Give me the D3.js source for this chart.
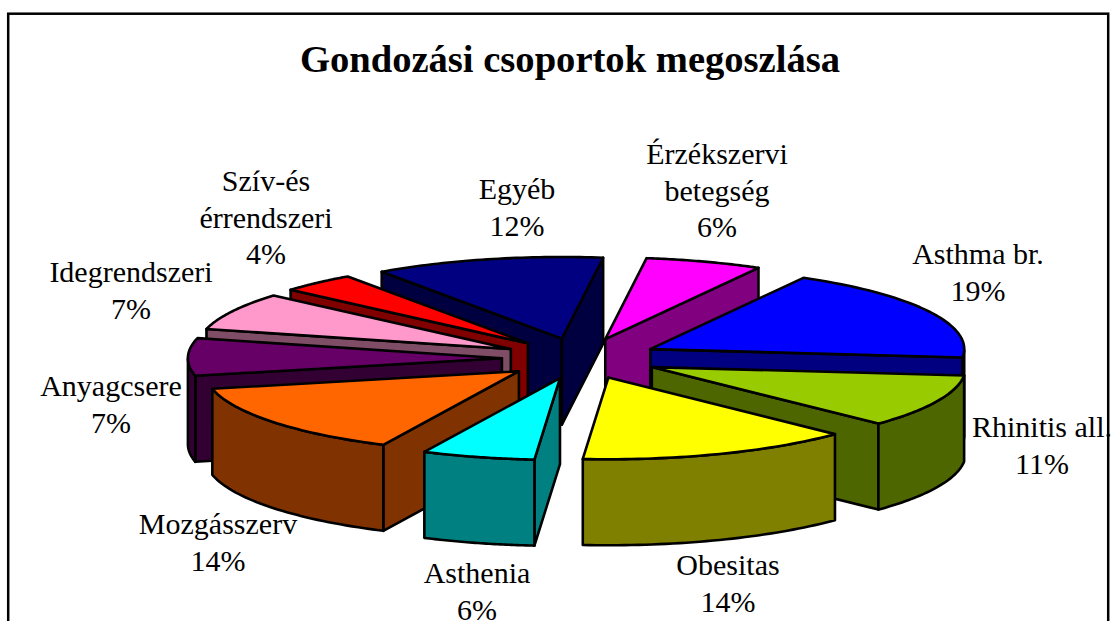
<!DOCTYPE html>
<html><head><meta charset="utf-8">
<style>html,body{margin:0;padding:0;background:#fff;overflow:hidden}svg{display:block}</style>
<script src="https://cdn.jsdelivr.net/npm/d3@7/dist/d3.min.js"></script>
</head><body><svg id="c" width="1117" height="621"></svg>
<script>
const title = "Gondozási csoportok megoszlása";
const categories = ["Asthma br.","Rhinitis all.","Obesitas","Asthenia","Mozgásszerv","Anyagcsere","Idegrendszeri","Szív-és érrendszeri","Egyéb","Érzékszervi betegség"];
const values = [18.5,10.5,14.1,5.8,14.4,7.4,7.4,3.9,11.8,6.0];
const percentLabels = ["19%","11%","14%","6%","14%","7%","7%","4%","12%","6%"];
const topColors = ["#0000ff","#99cc00","#ffff00","#00ffff","#ff6600","#660066","#ff99cc","#ff0000","#000080","#ff00ff"];
const sideColors = ["#000080","#4d6600","#808000","#008080","#803300","#330033","#804d66","#800000","#000040","#800080"];
const labelLines = [["Asthma br."],["Rhinitis all."],["Obesitas"],["Asthenia"],["Mozgásszerv"],["Anyagcsere"],["Idegrendszeri"],["Szív-és","érrendszeri"],["Egyéb"],["Érzékszervi","betegség"]];
const labelAnchors = [[978,255],[1042,428],[728,566],[477,574],[218,525],[111,387],[131,273],[266,182],[517,190],[717,155]];

const svg = d3.select("#c");
svg.append("rect").attr("x",8.2).attr("y",13.7).attr("width",1100).attr("height",640).attr("fill","#fff").attr("stroke","#000").attr("stroke-width",2.5);
svg.append("text").text(title).attr("x",570).attr("y",72).attr("text-anchor","middle")
  .attr("font-family","Liberation Serif").attr("font-weight","bold").attr("font-size",38.6).attr("fill","#000");

// Flat projection of a tilted pie
const R=314, tilt=0.26, pull=78.6, depth=86;
const sx=d3.scaleLinear().domain([-1,1]).range([580.5-R,580.5+R]);
const sy=d3.scaleLinear().domain([-1,1]).range([358.5-R*tilt,358.5+R*tilt]);
const startAngle=29.2*Math.PI/180;
const pie=d3.pie().sort(null).startAngle(startAngle).endAngle(startAngle+2*Math.PI);
const arcs=pie(values);
const line=d3.line();
const slices=arcs.map((d,i)=>{
  const mid=(d.startAngle+d.endAngle)/2, e=pull/R;
  const ex=e*Math.sin(mid), ey=-e*Math.cos(mid);
  const P=(a,r,z)=>[sx(r*Math.sin(a)+ex),sy(-r*Math.cos(a)+ey)+z];
  return {d,i,mid,P,apexY:P(0,0,0)[1]};
});
function faceVisible(a,mid){
  const dx=Math.sin(a),dy=-tilt*Math.cos(a),mx=Math.sin(mid),my=-tilt*Math.cos(mid);
  return (dx*my-dy*mx)*dx<0;
}
const g=svg.append("g").attr("stroke","#000").attr("stroke-width",2.6).attr("stroke-linejoin","round");
slices.sort((a,b)=>a.apexY-b.apexY).forEach(s=>{
  const {d,i,mid,P}=s, a0=d.startAngle,a1=d.endAngle;
  const steps=d3.range(0,41).map(t=>a0+(a1-a0)*t/40);
  const side=sideColors[i];
  const front=steps.filter(a=>{const n=((a%(2*Math.PI))+2*Math.PI)%(2*Math.PI);return n>=Math.PI/2&&n<=1.5*Math.PI;});
  [a0,a1].forEach(a=>{
    if(faceVisible(a,mid)){
      g.append("path").attr("fill",side)
       .attr("d",line([P(0,0,0),P(a,1,0),P(a,1,depth),P(0,0,depth)])+"Z");
    }
  });
  if(front.length>1){
    const top=front.map(a=>P(a,1,0)), bot=front.map(a=>P(a,1,depth)).reverse();
    g.append("path").attr("fill",side).attr("d",line(top.concat(bot))+"Z");
  }
  g.append("path").attr("fill",topColors[i])
   .attr("d",line([P(0,0,0)].concat(steps.map(a=>P(a,1,0))))+"Z");
});

const lh=36.5;
labelLines.forEach((ls,i)=>{
  const [x,y]=labelAnchors[i];
  const t=svg.append("text").attr("text-anchor","middle").attr("font-family","Liberation Serif").attr("font-size",30).attr("fill","#000");
  ls.concat([percentLabels[i]]).forEach((l,j)=>{
    t.append("tspan").attr("x",x).attr("y",y+(j*lh)+9).text(l);
  });
});
</script></body></html>
